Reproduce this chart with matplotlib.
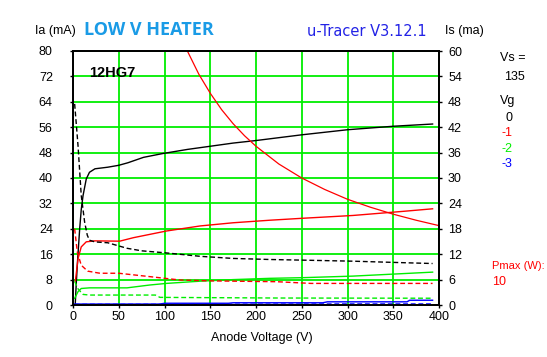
import matplotlib.pyplot as plt
from matplotlib.ticker import MultipleLocator

# u-Tracer curves for 12HG7, Vs = 135 V
# solid = anode current Ia (left axis), dashed = screen current Is (right axis)

#--- data ---#
vg_labels = ["0", "-1", "-2", "-3"]

va_0 = [2.5, 3.6, 5, 7.3, 9, 11, 14.5, 18, 24, 38, 50, 60, 77, 98, 125, 150, 175, 200, 250, 300, 350, 393]
ia_0 = [0.5, 7.0, 14, 24, 30, 34.5, 39.7, 41.8, 42.9, 43.4, 44, 44.8, 46.5, 47.7, 49, 50, 51, 51.8, 53.6, 55.2, 56.3, 57]
vs_0 = [1.8, 3.5, 5.5, 9, 12.7, 15.6, 18, 24, 38, 59, 75, 102, 139, 175, 215, 250, 306, 368, 393]
is_0 = [47.5, 43, 37.6, 25.9, 19.6, 16.5, 15.3, 14.9, 14.7, 13.4, 12.8, 12.3, 11.5, 11.0, 10.75, 10.6, 10.35, 9.95, 9.8]

va_1 = [2.5, 5.5, 9, 14.5, 24, 51, 66, 102, 139, 175, 215, 250, 306, 361, 393]
ia_1 = [7.3, 14.6, 18.3, 19.9, 20.2, 20.1, 21.2, 23.3, 24.9, 25.9, 26.7, 27.3, 28.2, 29.5, 30.3]
vs_1 = [1.8, 4.7, 9, 16, 24, 29.5, 50, 84, 117, 150, 223, 260, 300, 393]
is_1 = [18, 12.5, 9.4, 8.0, 7.7, 7.5, 7.5, 6.7, 5.9, 5.7, 5.5, 5.1, 5.1, 5.1]

va_2 = [1.8, 5.5, 9, 18, 59, 84, 102, 139, 175, 215, 250, 306, 393]
ia_2 = [2.1, 4.2, 5.2, 5.4, 5.4, 6.3, 6.8, 7.5, 8.0, 8.4, 8.6, 9.1, 10.35]
vs_2 = [1.8, 5.5, 11, 18, 90, 95, 223, 393]
is_2 = [5.6, 3.8, 2.5, 2.35, 2.35, 1.8, 1.65, 1.6]

va_3 = [1.8, 95, 100, 170, 175, 273, 278, 365, 368, 393]
ia_3 = [0.3, 0.3, 0.55, 0.55, 0.7, 0.7, 1.0, 1.0, 1.5, 1.5]
vs_3 = [1.8, 100, 200, 300, 393]
is_3 = [0.15, 0.15, 0.2, 0.25, 0.25]

# Pmax = 10 W hyperbola
v_pmax = [125, 137.5, 150, 162.5, 175, 187.5, 200, 225, 250, 275, 300, 325, 350, 375, 400]
i_pmax = [80, 72.7, 66.7, 61.5, 57.1, 53.3, 50, 44.4, 40, 36.4, 33.3, 30.8, 28.6, 26.7, 25]

#--- plot configuration ---#
W, H = 547, 357
grid_col = '#00ee00'
cols = ['black', '#ff0000', '#00ee00', '#0000ff']
fnt = 'Liberation Sans'
fs = 9
dash = (0, (3.5, 2))

def fx(px):
    return px / W

def fy(py):
    return 1 - py / H

fig = plt.figure(figsize=(W / 100, H / 100), dpi=100)
ax = fig.add_axes([fx(73), fy(305), fx(439) - fx(73), fy(51) - fy(305)])
ax2 = ax.twinx()

ax.set_xlim(0, 400)
ax.set_ylim(0, 80)
ax2.set_ylim(0, 60)
ax.xaxis.set_major_locator(MultipleLocator(50))
ax.yaxis.set_major_locator(MultipleLocator(8))
ax2.yaxis.set_major_locator(MultipleLocator(6))

ax.grid(True, color=grid_col, linewidth=1.3)
ax.set_axisbelow(True)

for sp in list(ax.spines.values()) + list(ax2.spines.values()):
    sp.set_linewidth(1.3)

ax.tick_params(axis='y', length=2.5, width=1, pad=12, labelsize=fs)
ax.tick_params(axis='x', length=2.5, width=1, pad=2, labelsize=fs)
ax2.tick_params(axis='y', length=2.5, width=1, pad=4, labelsize=fs)
for lab in ax.get_xticklabels() + ax.get_yticklabels() + ax2.get_yticklabels():
    lab.set_family(fnt)

anode = [(va_0, ia_0), (va_1, ia_1), (va_2, ia_2), (va_3, ia_3)]
screen = [(vs_0, is_0), (vs_1, is_1), (vs_2, is_2), (vs_3, is_3)]
for k in range(4):
    ax.plot(anode[k][0], anode[k][1], color=cols[k], linewidth=1.0)
    ax2.plot(screen[k][0], screen[k][1], color=cols[k], linewidth=1.0, linestyle=dash)
ax.plot(v_pmax, i_pmax, color='#ff0000', linewidth=0.9, clip_on=True)

ax.text(0.045, 0.915, '12HG7', transform=ax.transAxes, fontsize=10.5, fontweight='bold',
        family=fnt, va='center')

#--- texts around the plot ---#
fig.text(fx(35), fy(31), 'Ia (mA)', fontsize=fs, family=fnt, va='center')
fig.text(fx(84), fy(30), 'LOW V HEATER', fontsize=13, fontweight='bold', family='Open Sans',
         color='#1a9be6', va='center')
fig.text(fx(307), fy(31), 'u-Tracer V3.12.1', fontsize=10.5, family='DejaVu Sans',
         color='#2323e6', va='center')
fig.text(fx(445), fy(31), 'Is (ma)', fontsize=fs, family=fnt, va='center')
fig.text(fx(500), fy(58), 'Vs =', fontsize=fs, family=fnt, va='center')
fig.text(fx(504), fy(77), '135', fontsize=fs, family=fnt, va='center')
fig.text(fx(500), fy(101), 'Vg', fontsize=fs, family=fnt, va='center')
for k, lab in enumerate(vg_labels):
    x0 = 505 if k == 0 else 502
    fig.text(fx(x0), fy(118 + 15.3 * k), lab, fontsize=fs, family=fnt, color=cols[k], va='center')
fig.text(fx(492), fy(266), 'Pmax (W):', fontsize=8, family=fnt, color='#ff0000', va='center')
fig.text(fx(492), fy(282), '10', fontsize=fs, family=fnt, color='#ff0000', va='center')
fig.text(fx(262), fy(338), 'Anode Voltage (V)', fontsize=fs, family=fnt, ha='center', va='center')

fig.savefig('out.png', dpi=100)
